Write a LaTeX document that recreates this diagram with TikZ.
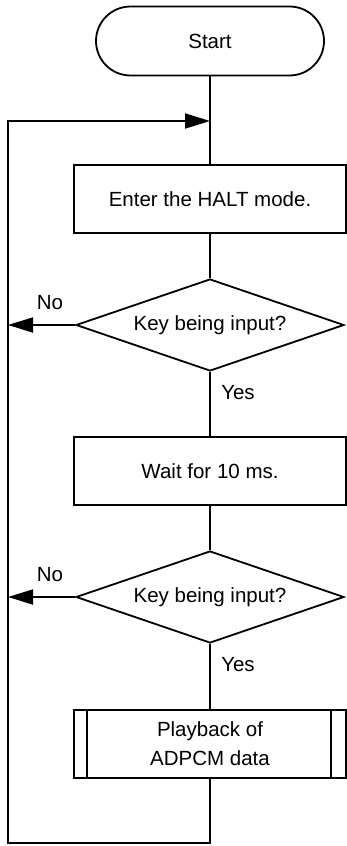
\documentclass[tikz,border=0pt]{standalone}
\usepackage{fontspec}
\setmainfont{Liberation Sans}
\usetikzlibrary{shapes.misc,shapes.geometric,arrows.meta,calc}
\begin{document}
\begin{tikzpicture}[x=1pt,y=-1pt,
  every node/.style={font=\fontsize{20.5}{29}\selectfont},
  ln/.style={line width=1.8pt,line join=miter},
  term/.style={ln,draw,rounded rectangle,minimum width=228pt,minimum height=69pt,inner sep=0pt},
  procbox/.style={ln,draw,rectangle,minimum width=272pt,minimum height=68pt,inner sep=0pt},
  decide/.style={ln,draw,diamond,aspect=2.9,minimum width=268pt,minimum height=92pt,inner sep=0pt},
  lbl/.style={inner sep=0pt},
  arr/.style={ln,-{Triangle[length=25pt,width=15pt]}}]
\useasboundingbox (0,0) rectangle (347,846);
\node[term] (start) at (210,41) {Start};
\node[procbox] (halt) at (210,199) {Enter the HALT mode.};
\node[decide] (d1) at (210,325) {Key being input?};
\node[procbox] (wait) at (210,471) {Wait for 10 ms.};
\node[decide] (d2) at (210,597) {Key being input?};
\node[procbox,align=center] (play) at (210,744) {Playback of\\ADPCM data};
\draw[ln] ($(play.north west)+(14,0)$) coordinate (p1) -- ($(play.south west)+(14,0)$) coordinate (p2);
\draw[ln] ($(play.north east)+(-16,0)$) coordinate (p3) -- ($(play.south east)+(-16,0)$) coordinate (p4);
\coordinate (join) at (210,121);
\coordinate (corner) at (8,843);
\draw[ln] (start.south) -- (halt.north);
\draw[ln] (halt.south) -- (d1.north);
\draw[ln] (d1.south) -- (wait.north);
\draw[ln] (wait.south) -- (d2.north);
\draw[ln] (d2.south) -- (play.north);
\draw[arr] (play.south) |- (corner) |- (join);
\draw[arr] (d1.west) -- (d1.west -| corner);
\draw[arr] (d2.west) -- (d2.west -| corner);
\node[lbl] (no1) at (50,303) {No};
\node[lbl] (no2) at (50,575) {No};
\node[lbl] (yes1) at (238,393) {Yes};
\node[lbl] (yes2) at (238,665) {Yes};
\end{tikzpicture}
\end{document}
